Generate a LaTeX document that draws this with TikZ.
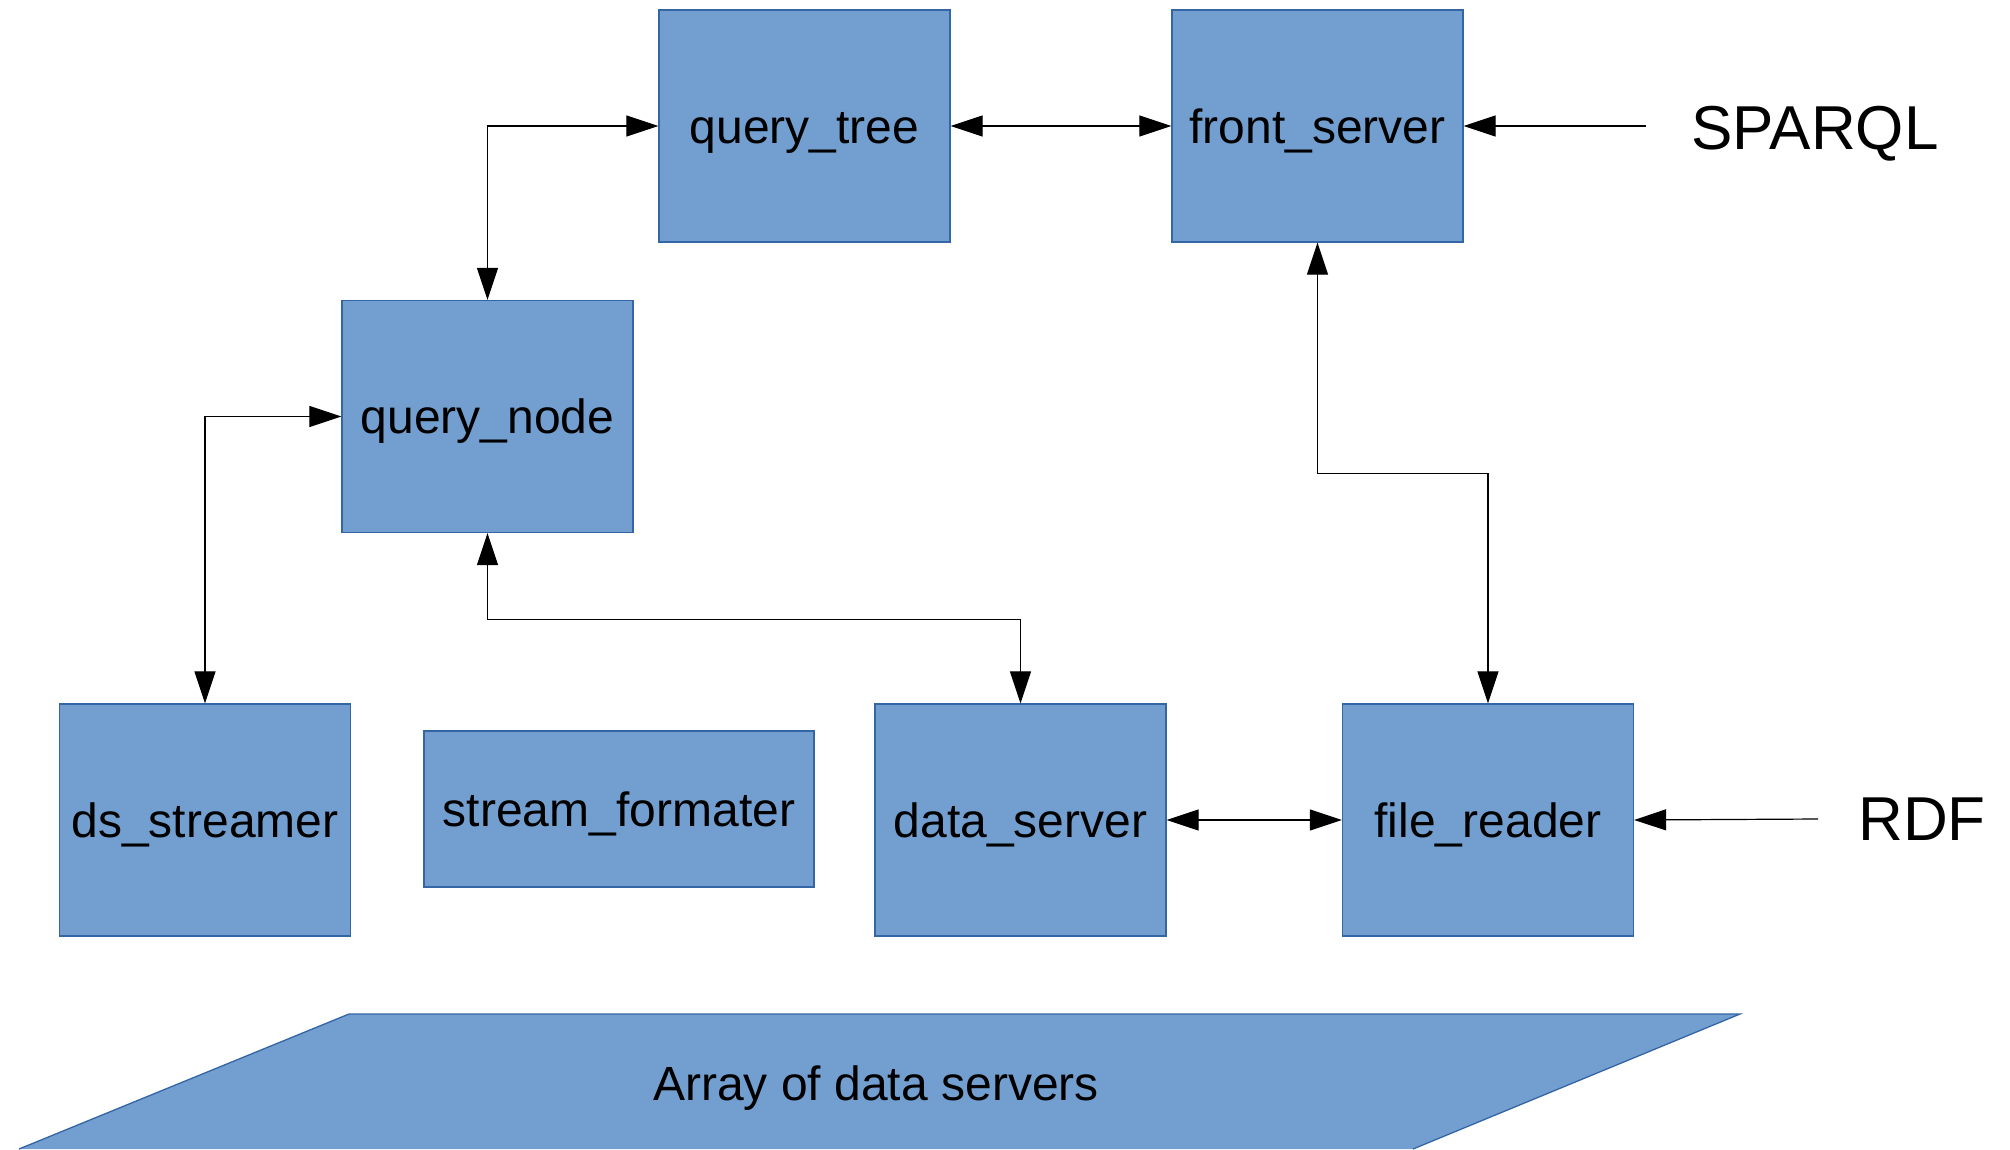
\documentclass[tikz,border=0pt]{standalone}
\usepackage{fontspec}
\setmainfont{Liberation Sans}
\usetikzlibrary{arrows.meta}
\definecolor{boxfill}{HTML}{729FCF}
\definecolor{boxline}{HTML}{3465A4}
\tikzset{
  block/.style={rectangle, draw=boxline, line width=1.3pt, fill=boxfill,
    inner sep=0pt, minimum width=291pt, minimum height=232pt,
    text height=44pt, text depth=10pt,
    font=\fontsize{48}{58}\selectfont},
  link/.style={draw=black, line width=1.2pt,
    {Triangle[length=32pt,width=21pt]}-{Triangle[length=32pt,width=21pt]}},
  feed/.style={draw=black, line width=1.2pt, -{Triangle[length=32pt,width=21pt]}},
  biglabel/.style={font=\fontsize{62}{74}\selectfont, inner sep=0pt}
}
\begin{document}
\begin{tikzpicture}[x=1pt, y=-1pt]
\useasboundingbox (0,0) rectangle (2010,1149);

% processing blocks
\node[block] (qtree) at (804.5,126) {query\_tree};
\node[block] (front) at (1317.5,126) {front\_server};
\node[block] (qnode) at (487.5,416.5) {query\_node};
\node[block] (dss) at (205,820) {ds\_streamer};
\node[block, minimum width=390pt, minimum height=156pt] (sfmt) at (619,809) {stream\_formater};
\node[block] (dsrv) at (1020.5,820) {data\_server};
\node[block] (frd) at (1488,820) {file\_reader};

% external inputs
\node[biglabel] (sparql) at (1815,134) {SPARQL};
\node[biglabel] (rdf) at (1922,819) {RDF};
\coordinate (sparqlend) at (1646,126);
\coordinate (rdfend) at (1818,819);

% storage layer
\coordinate (pa) at (349,1014);
\coordinate (pb) at (1740,1014);
\coordinate (pc) at (1413,1149);
\coordinate (pd) at (19,1149);
\fill[boxfill] (pa) -- (pb) -- (pc) -- (pd) -- cycle;
\draw[boxline, line width=1.3pt] (pd) -- (pa) -- (pb) -- (pc);
\node[font=\fontsize{48}{58}\selectfont] (array) at (876,1088) {Array of data servers};

% connectors
\draw[link] (qtree.east) -- (front.west);
\draw[feed] (sparqlend) -- (front.east);
\draw[feed] (rdfend) -- (frd.east);
\draw[link] (dsrv.east) -- (frd.west);
\draw[link] (qnode.north) |- (qtree.west);
\draw[link] (qnode.west) -| (dss.north);
\draw[link] (qnode.south) -- ++(0,86) -| (dsrv.north);
\draw[link] (front.south) -- ++(0,231) -| (frd.north);
\end{tikzpicture}
\end{document}
